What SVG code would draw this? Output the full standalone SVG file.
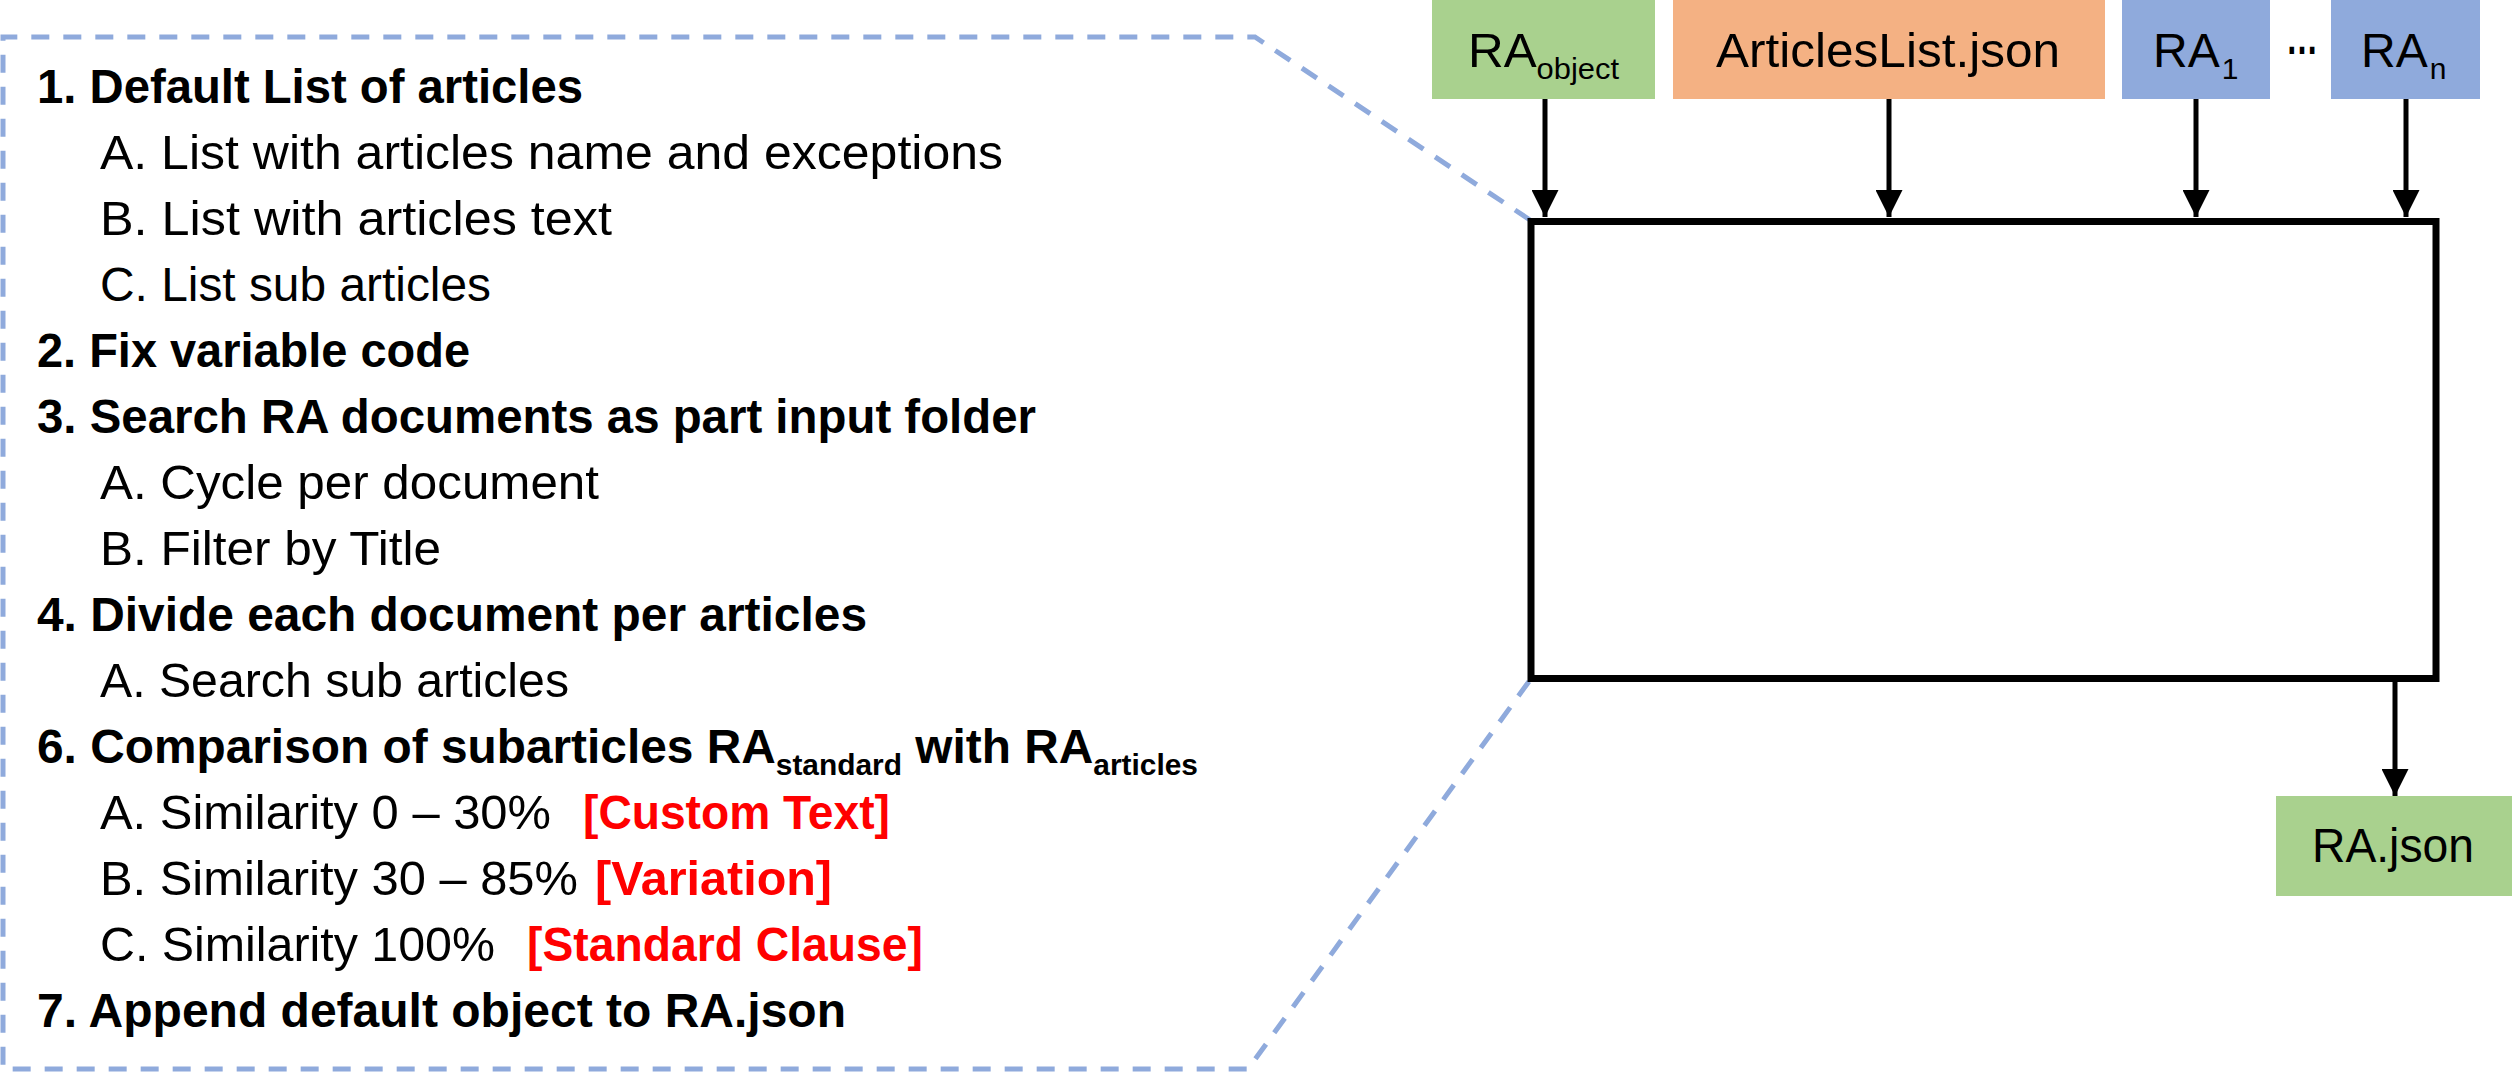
<svg xmlns="http://www.w3.org/2000/svg" width="2512" height="1074" viewBox="0 0 2512 1074">
<defs>
<style>
text{font-family:"Liberation Sans",Arial,sans-serif;fill:#000;}
.t{font-size:48px;}
.b{font-size:48px;font-weight:bold;}
.sub{font-size:30px;}
.sb{font-size:30px;font-weight:bold;}
.red{fill:#FF0000;}
.green{fill:#A9D18E;}
.orange{fill:#F4B183;}
.blue{fill:#8FAADC;}
.conn{stroke:#000;stroke-width:5;fill:none;}
.dash{stroke:#8FAADC;stroke-width:5;fill:none;stroke-dasharray:18 14;}
</style>
<marker id="ah" viewBox="0 0 10 10" refX="10" refY="5" markerWidth="5.4" markerHeight="5.4" markerUnits="strokeWidth" orient="auto">
<path d="M0,0 L10,5 L0,10 z" fill="#000"/>
</marker>
</defs>
<rect width="2512" height="1074" fill="#fff"/>

<g id="outline">
<path class="dash" d="M1530,220 L1255,37 L3,37 L3,1069 L1248,1069 L1530,680"/>
</g>

<g id="steps">
<text class="b" x="37" y="103" textLength="546" lengthAdjust="spacingAndGlyphs">1. Default List of articles</text>
<text class="t" x="100" y="169" textLength="903" lengthAdjust="spacingAndGlyphs">A. List with articles name and exceptions</text>
<text class="t" x="100" y="235" textLength="512" lengthAdjust="spacingAndGlyphs">B. List with articles text</text>
<text class="t" x="100" y="301" textLength="391" lengthAdjust="spacingAndGlyphs">C. List sub articles</text>
<text class="b" x="37" y="367" textLength="433" lengthAdjust="spacingAndGlyphs">2. Fix variable code</text>
<text class="b" x="37" y="433" textLength="999" lengthAdjust="spacingAndGlyphs">3. Search RA documents as part input folder</text>
<text class="t" x="100" y="499" textLength="499" lengthAdjust="spacingAndGlyphs">A. Cycle per document</text>
<text class="t" x="100" y="565" textLength="341" lengthAdjust="spacingAndGlyphs">B. Filter by Title</text>
<text class="b" x="37" y="631" textLength="830" lengthAdjust="spacingAndGlyphs">4. Divide each document per articles</text>
<text class="t" x="100" y="697" textLength="469" lengthAdjust="spacingAndGlyphs">A. Search sub articles</text>
<text class="b" x="37" y="763" textLength="1161" lengthAdjust="spacingAndGlyphs">6. Comparison of subarticles RA<tspan class="sb" dy="12">standard</tspan><tspan dy="-12"> with RA</tspan><tspan class="sb" dy="12">articles</tspan></text>
<text class="t"><tspan x="100" y="829" textLength="451" lengthAdjust="spacingAndGlyphs">A. Similarity 0 – 30%</tspan><tspan class="b red" x="583" y="829" textLength="307" lengthAdjust="spacingAndGlyphs">[Custom Text]</tspan></text>
<text class="t"><tspan x="100" y="895" textLength="478" lengthAdjust="spacingAndGlyphs">B. Similarity 30 – 85%</tspan><tspan class="b red" x="595" y="895" textLength="237" lengthAdjust="spacingAndGlyphs">[Variation]</tspan></text>
<text class="t"><tspan x="100" y="961" textLength="395" lengthAdjust="spacingAndGlyphs">C. Similarity 100%</tspan><tspan class="b red" x="527" y="961" textLength="396" lengthAdjust="spacingAndGlyphs">[Standard Clause]</tspan></text>
<text class="b" x="37" y="1027" textLength="809" lengthAdjust="spacingAndGlyphs">7. Append default object to RA.json</text>
</g>

<g id="ra-object">
<rect class="green" x="1432" y="0" width="223" height="99"/>
<text class="t" x="1468" y="67" textLength="151" lengthAdjust="spacingAndGlyphs">RA<tspan class="sub" dy="12">object</tspan></text>
</g>

<g id="articles-list">
<rect class="orange" x="1673" y="0" width="432" height="99"/>
<text class="t" x="1716" y="67" textLength="344" lengthAdjust="spacingAndGlyphs">ArticlesList.json</text>
</g>

<g id="ra-1">
<rect class="blue" x="2122" y="0" width="148" height="99"/>
<text class="t" x="2153" y="67">RA<tspan class="sub" dx="2" dy="12">1</tspan></text>
</g>

<g id="ellipsis">
<text class="b" x="2286" y="54" textLength="32" lengthAdjust="spacingAndGlyphs">…</text>
</g>

<g id="ra-n">
<rect class="blue" x="2331" y="0" width="149" height="99"/>
<text class="t" x="2361" y="67">RA<tspan class="sub" dx="2" dy="12">n</tspan></text>
</g>

<g id="process">
<rect x="1531" y="221.5" width="905" height="457" fill="none" stroke="#000" stroke-width="7"/>
</g>

<g id="ra-json">
<rect class="green" x="2276" y="796" width="236" height="100"/>
<text class="t" x="2312" y="862" textLength="162" lengthAdjust="spacingAndGlyphs">RA.json</text>
</g>

<g id="connectors">
<line class="conn" x1="1545" y1="99" x2="1545" y2="217" marker-end="url(#ah)"/>
<line class="conn" x1="1889" y1="99" x2="1889" y2="217" marker-end="url(#ah)"/>
<line class="conn" x1="2196" y1="99" x2="2196" y2="217" marker-end="url(#ah)"/>
<line class="conn" x1="2406" y1="99" x2="2406" y2="217" marker-end="url(#ah)"/>
<line class="conn" x1="2395" y1="682" x2="2395" y2="796" marker-end="url(#ah)"/>
</g>
</svg>
